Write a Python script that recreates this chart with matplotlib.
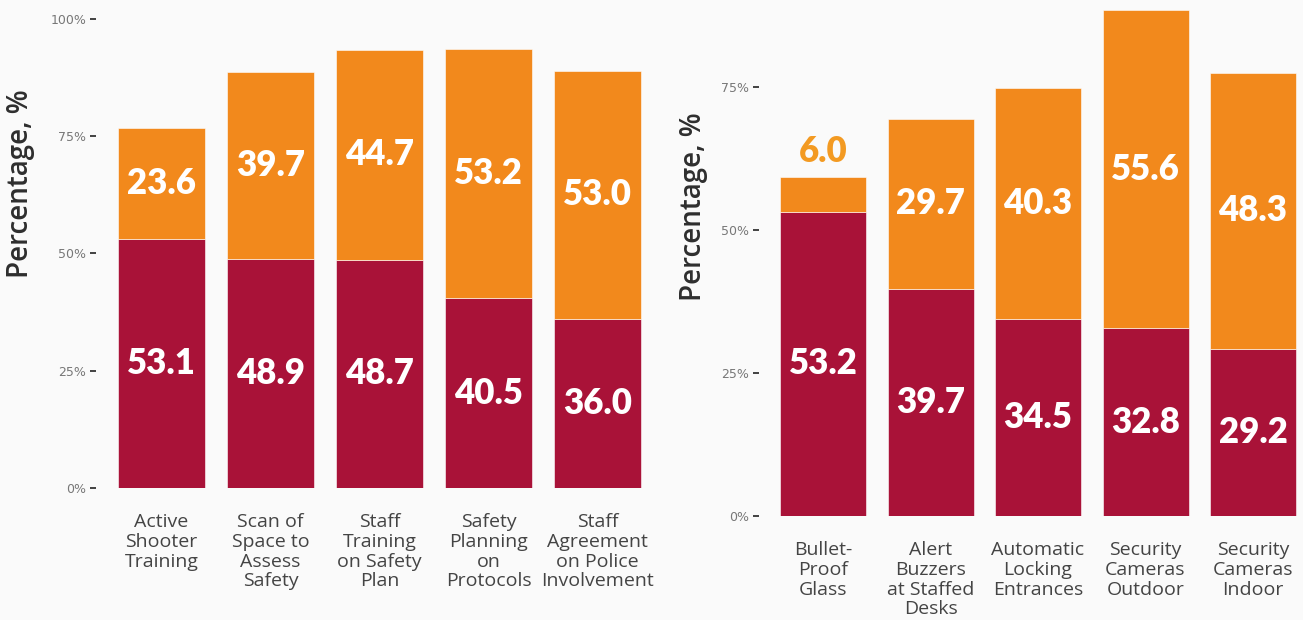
import numpy as np
import matplotlib.pyplot as plt

left_cats = ["Active\nShooter\nTraining", "Scan of\nSpace to\nAssess\nSafety", "Staff\nTraining\non Safety\nPlan",
             "Safety\nPlanning\non\nProtocols", "Staff\nAgreement\non Police\nInvolvement"]
left_low = [53.1, 48.9, 48.7, 40.5, 36.0]
left_high = [23.6, 39.7, 44.7, 53.2, 53.0]

right_cats = ["Bullet-\nProof\nGlass", "Alert\nBuzzers\nat Staffed\nDesks", "Automatic\nLocking\nEntrances",
              "Security\nCameras\nOutdoor", "Security\nCameras\nIndoor"]
right_low = [53.2, 39.7, 34.5, 32.8, 29.2]
right_high = [6.0, 29.7, 40.3, 55.6, 48.3]

ticks = [0, 25, 50, 75, 100]
red = "#A91238"
orange = "#F2891C"
bg = "#FAFAFA"

fig = plt.figure(figsize=(13.03, 6.2), dpi=100, facecolor=bg)
ax1 = fig.add_axes([96/1303, 132/620, 567/1303, 469/620])
ax2 = fig.add_axes([758.5/1303, 104/620, 559/1303, 516/620])


def draw(ax, cats, low, high, ymax):
    x = np.arange(len(cats))
    ax.set_facecolor(bg)
    ax.bar(x, low, width=0.8, color=red, edgecolor="white", linewidth=0.4)
    ax.bar(x, high, bottom=low, width=0.8, color=orange, edgecolor="white", linewidth=0.4)
    for i in range(len(cats)):
        ax.text(x[i], low[i] / 2, f"{low[i]:.1f}", ha="center", va="center",
                color="white", fontsize=25, fontweight="heavy", family="Lato")
        if high[i] < 10:
            ax.text(x[i], low[i] + high[i] + 4.6, f"{high[i]:.1f}", ha="center", va="center",
                    color="#F39A22", fontsize=25, fontweight="heavy", family="Lato")
        else:
            ax.text(x[i], low[i] + high[i] / 2, f"{high[i]:.1f}", ha="center", va="center",
                    color="white", fontsize=25, fontweight="heavy", family="Lato")
    ax.set_xlim(-0.6, 4.6)
    ax.set_ylim(0, ymax)
    ax.set_xticks(x)
    ax.set_xticklabels(cats, fontsize=14, color="#444444", family="Open Sans",
                       linespacing=1.13, va="top")
    ax.tick_params(axis="x", length=0, pad=18)
    ax.set_yticks([t for t in ticks if t <= ymax])
    ax.set_yticklabels([f"{t}%" for t in ticks if t <= ymax])
    ax.tick_params(axis="y", length=4, width=1.3, color="#333333", labelsize=9,
                   labelcolor="#777777", pad=3)
    for s in ax.spines.values():
        s.set_visible(False)
    ax.set_ylabel("Percentage, %", fontsize=20, color="#2E2E2E", family="Open Sans",
                  fontweight="semibold")


draw(ax1, left_cats, left_low, left_high, 100)
draw(ax2, right_cats, right_low, right_high, 90.2)
ax1.yaxis.set_label_coords(-0.108, 0.648)
ax2.yaxis.set_label_coords(-0.09, 0.6)

fig.savefig("out.png", dpi=100, facecolor=bg)
